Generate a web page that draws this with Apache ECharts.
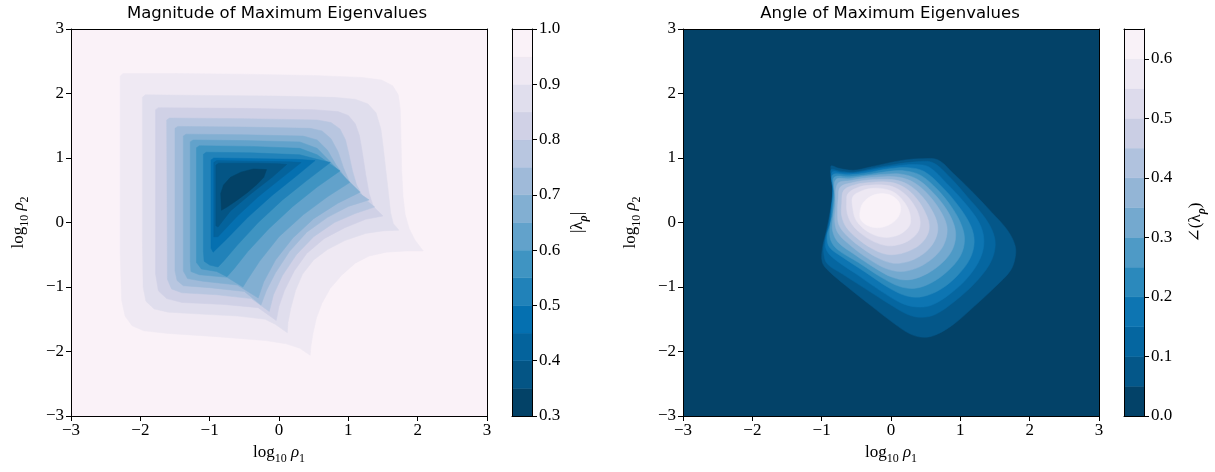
<!DOCTYPE html>
<html><head><meta charset="utf-8">
<script src="https://cdn.jsdelivr.net/npm/echarts@6.0.0/dist/echarts.min.js"></script>
<style>html,body{margin:0;padding:0;background:#fff}#c{width:1215px;height:472px}</style>
</head><body><div id="c"></div><script>
// ---------------- DATA ----------------
const magLevels = [0.3,0.35,0.4,0.45,0.5,0.55,0.6,0.65,0.7,0.75,0.8,0.85,0.9,0.95,1.0];
const angLevels = [0,0.05,0.1,0.15,0.2,0.25,0.3,0.35,0.4,0.45,0.5,0.55,0.6,0.65];

// Magnitude contours (region with |lambda| < level), outer to inner
const mag095 = [[-2.29,2.27],[-2.25,2.31],[-1.5,2.31],[-0.5,2.30],[0.5,2.28],[1.2,2.25],[1.48,2.21],[1.64,2.12],[1.72,1.98],[1.75,1.75],[1.76,1.3],[1.77,0.8],[1.79,0.4],[1.82,0.12],[1.88,-0.1],[1.96,-0.27],[2.08,-0.44],[1.85,-0.44],[1.55,-0.46],[1.3,-0.52],[1.1,-0.63],[0.9,-0.82],[0.74,-1.02],[0.62,-1.25],[0.54,-1.48],[0.49,-1.72],[0.46,-1.92],[0.45,-2.06],[0.3,-1.95],[0.1,-1.88],[-0.2,-1.83],[-0.9,-1.77],[-1.6,-1.72],[-1.95,-1.68],[-2.12,-1.60],[-2.22,-1.45],[-2.27,-1.2],[-2.29,-0.5]];
const mag090 = [[-1.97,1.94],[-1.93,1.98],[-1.0,1.97],[0.0,1.96],[0.8,1.94],[1.1,1.91],[1.28,1.84],[1.40,1.70],[1.47,1.45],[1.50,1.2],[1.54,0.82],[1.58,0.45],[1.61,0.15],[1.65,-0.02],[1.73,-0.12],[1.50,-0.13],[1.25,-0.17],[0.95,-0.28],[0.70,-0.42],[0.50,-0.58],[0.34,-0.80],[0.24,-1.05],[0.17,-1.33],[0.13,-1.55],[0.12,-1.71],[-0.05,-1.58],[-0.2,-1.50],[-0.6,-1.45],[-1.14,-1.42],[-1.6,-1.39],[-1.80,-1.34],[-1.92,-1.22],[-1.96,-1.0],[-1.97,-0.3]];
const mag085 = [[-1.78,1.75],[-1.74,1.78],[-0.5,1.77],[0.5,1.75],[0.85,1.72],[1.0,1.66],[1.10,1.53],[1.16,1.35],[1.20,1.1],[1.25,0.75],[1.30,0.45],[1.36,0.25],[1.50,0.10],[1.25,0.05],[0.95,-0.08],[0.65,-0.25],[0.40,-0.48],[0.22,-0.75],[0.08,-1.05],[0.0,-1.30],[-0.04,-1.52],[-0.3,-1.32],[-0.8,-1.27],[-1.4,-1.24],[-1.62,-1.18],[-1.74,-1.06],[-1.78,-0.8]];
const mag080 = [[-1.62,1.59],[-1.58,1.62],[-0.5,1.61],[0.55,1.59],[0.75,1.55],[0.88,1.45],[0.96,1.28],[1.01,1.05],[1.06,0.8],[1.12,0.58],[1.22,0.38],[1.38,0.24],[1.1,0.14],[0.8,0.0],[0.5,-0.22],[0.25,-0.5],[0.05,-0.82],[-0.08,-1.12],[-0.14,-1.38],[-0.4,-1.18],[-0.9,-1.12],[-1.4,-1.09],[-1.55,-1.03],[-1.61,-0.88]];
const mag075 = [[-1.50,1.46],[-1.46,1.49],[-0.5,1.48],[0.45,1.46],[0.62,1.42],[0.75,1.30],[0.85,1.10],[0.93,0.85],[1.02,0.62],[1.15,0.46],[1.30,0.35],[1.0,0.25],[0.7,0.08],[0.4,-0.15],[0.15,-0.45],[-0.05,-0.78],[-0.18,-1.05],[-0.26,-1.28],[-0.5,-1.07],[-1.0,-1.01],[-1.38,-0.98],[-1.47,-0.90],[-1.50,-0.75]];
const mag070 = [[-1.38,1.34],[-1.34,1.37],[-0.5,1.36],[0.35,1.34],[0.55,1.28],[0.70,1.12],[0.82,0.90],[0.95,0.70],[1.17,0.47],[0.85,0.30],[0.5,0.06],[0.2,-0.24],[-0.05,-0.58],[-0.22,-0.92],[-0.30,-1.17],[-0.6,-0.97],[-1.1,-0.91],[-1.32,-0.87],[-1.38,-0.75]];
const mag065 = [[-1.28,1.25],[-1.24,1.28],[-0.5,1.27],[0.3,1.25],[0.55,1.15],[0.75,0.93],[1.02,0.62],[0.7,0.40],[0.35,0.12],[0.0,-0.22],[-0.28,-0.6],[-0.45,-0.88],[-0.52,-1.0],[-0.75,-0.85],[-1.15,-0.81],[-1.27,-0.76],[-1.28,-0.6]];
const mag060 = [[-1.19,1.16],[-1.15,1.19],[-0.4,1.18],[0.3,1.15],[0.55,1.05],[0.88,0.80],[0.55,0.55],[0.2,0.25],[-0.15,-0.1],[-0.45,-0.45],[-0.65,-0.72],[-0.75,-0.84],[-0.9,-0.76],[-1.12,-0.72],[-1.19,-0.62]];
const mag055 = [[-1.09,1.06],[-1.05,1.09],[-0.4,1.08],[0.3,1.05],[0.55,0.98],[0.74,0.93],[0.4,0.65],[0.05,0.35],[-0.3,0.0],[-0.6,-0.35],[-0.80,-0.6],[-0.88,-0.69],[-1.0,-0.66],[-1.08,-0.6],[-1.09,-0.45]];
const mag050 = [[-0.98,0.97],[-0.94,1.0],[-0.3,0.99],[0.25,0.98],[0.52,0.96],[0.25,0.72],[-0.1,0.42],[-0.45,0.08],[-0.75,-0.25],[-0.95,-0.46],[-0.98,-0.40]];
const mag045 = [[-0.94,0.93],[-0.90,0.96],[-0.3,0.95],[0.15,0.94],[0.32,0.93],[0.05,0.70],[-0.3,0.40],[-0.6,0.10],[-0.88,-0.22],[-0.94,-0.22]];
const mag040 = [[-0.91,0.89],[-0.87,0.92],[-0.3,0.92],[0.0,0.91],[0.11,0.90],[-0.1,0.70],[-0.4,0.45],[-0.7,0.18],[-0.88,-0.07],[-0.91,-0.05]];
const mag035 = [[-0.83,0.19],[-0.84,0.45],[-0.80,0.58],[-0.70,0.70],[-0.55,0.78],[-0.37,0.83],[-0.18,0.82],[-0.22,0.70],[-0.32,0.59],[-0.45,0.47],[-0.60,0.35],[-0.75,0.24]];
const magContourLevels = [0.95,0.9,0.85,0.8,0.75,0.7,0.65,0.6,0.55,0.5,0.45,0.4,0.35];
const magContours = [mag095,mag090,mag085,mag080,mag075,mag070,mag065,mag060,mag055,mag050,mag045,mag040,mag035];

// Angle contours (region with angle > level), outer to inner
const ang005 = [[-0.87,0.84],[-0.86,0.88],[-0.75,0.84],[-0.54,0.81],[-0.30,0.86],[-0.05,0.92],[0.20,0.97],[0.45,0.99],[0.68,0.97],[0.90,0.76],[1.15,0.50],[1.45,0.16],[1.68,-0.12],[1.79,-0.36],[1.79,-0.55],[1.72,-0.75],[1.50,-1.0],[1.20,-1.30],[0.90,-1.58],[0.65,-1.74],[0.47,-1.78],[0.28,-1.73],[0.05,-1.57],[-0.30,-1.28],[-0.65,-0.98],[-0.90,-0.75],[-0.99,-0.62],[-0.99,-0.40],[-0.93,-0.12],[-0.88,0.15],[-0.84,0.45],[-0.86,0.70]];
const ang010 = [[-0.86,0.82],[-0.75,0.80],[-0.54,0.78],[-0.25,0.84],[0.05,0.90],[0.35,0.94],[0.60,0.93],[0.85,0.70],[1.10,0.40],[1.35,0.08],[1.48,-0.18],[1.50,-0.40],[1.42,-0.65],[1.20,-0.95],[0.92,-1.22],[0.65,-1.42],[0.45,-1.47],[0.25,-1.43],[0.0,-1.28],[-0.35,-1.04],[-0.70,-0.80],[-0.92,-0.64],[-0.97,-0.48],[-0.96,-0.30],[-0.91,-0.08],[-0.87,0.18],[-0.84,0.48],[-0.86,0.70]];
const ang015 = [[-0.85,0.78],[-0.7,0.77],[-0.5,0.77],[-0.2,0.83],[0.1,0.88],[0.35,0.90],[0.55,0.86],[0.80,0.61],[1.06,0.31],[1.27,0.0],[1.34,-0.27],[1.29,-0.55],[1.11,-0.85],[0.86,-1.10],[0.59,-1.28],[0.38,-1.31],[0.15,-1.25],[-0.15,-1.06],[-0.50,-0.80],[-0.80,-0.58],[-0.93,-0.43],[-0.94,-0.25],[-0.89,-0.03],[-0.86,0.22],[-0.84,0.50]];
const ang020 = [[-0.84,0.74],[-0.6,0.74],[-0.35,0.77],[-0.05,0.83],[0.25,0.85],[0.48,0.79],[0.73,0.56],[0.97,0.26],[1.15,-0.05],[1.20,-0.30],[1.14,-0.56],[0.96,-0.82],[0.71,-1.04],[0.45,-1.15],[0.23,-1.14],[-0.02,-1.02],[-0.37,-0.77],[-0.71,-0.53],[-0.89,-0.38],[-0.92,-0.20],[-0.87,0.0],[-0.85,0.25],[-0.83,0.52]];
const ang025 = [[-0.82,0.70],[-0.6,0.71],[-0.35,0.74],[-0.05,0.79],[0.20,0.80],[0.43,0.73],[0.67,0.51],[0.88,0.23],[1.02,-0.05],[1.06,-0.28],[1.00,-0.52],[0.82,-0.75],[0.59,-0.93],[0.35,-1.02],[0.12,-0.99],[-0.14,-0.85],[-0.47,-0.62],[-0.77,-0.42],[-0.87,-0.27],[-0.88,-0.08],[-0.84,0.15],[-0.82,0.45]];
const ang030 = [[-0.80,0.66],[-0.6,0.68],[-0.35,0.72],[-0.08,0.75],[0.15,0.75],[0.38,0.67],[0.60,0.47],[0.79,0.22],[0.91,-0.04],[0.93,-0.25],[0.86,-0.47],[0.69,-0.67],[0.47,-0.82],[0.24,-0.89],[0.02,-0.85],[-0.24,-0.70],[-0.52,-0.50],[-0.76,-0.31],[-0.84,-0.14],[-0.84,0.05],[-0.81,0.35]];
const ang035 = [[-0.77,0.60],[-0.58,0.65],[-0.35,0.69],[-0.10,0.71],[0.12,0.70],[0.33,0.62],[0.53,0.44],[0.70,0.20],[0.80,-0.03],[0.80,-0.22],[0.72,-0.42],[0.56,-0.59],[0.36,-0.71],[0.14,-0.76],[-0.08,-0.71],[-0.33,-0.56],[-0.58,-0.36],[-0.76,-0.17],[-0.81,0.0],[-0.80,0.25]];
const ang040 = [[-0.73,0.55],[-0.55,0.62],[-0.33,0.66],[-0.10,0.67],[0.10,0.65],[0.29,0.56],[0.46,0.39],[0.60,0.17],[0.67,-0.03],[0.66,-0.20],[0.57,-0.38],[0.42,-0.52],[0.23,-0.61],[0.03,-0.63],[-0.17,-0.56],[-0.40,-0.41],[-0.62,-0.22],[-0.75,-0.04],[-0.77,0.15],[-0.76,0.38]];
const ang045 = [[-0.68,0.50],[-0.50,0.59],[-0.30,0.62],[-0.10,0.63],[0.08,0.60],[0.25,0.50],[0.39,0.34],[0.50,0.14],[0.55,-0.03],[0.53,-0.18],[0.43,-0.33],[0.28,-0.43],[0.10,-0.49],[-0.08,-0.49],[-0.28,-0.40],[-0.48,-0.25],[-0.64,-0.08],[-0.71,0.10],[-0.71,0.30]];
const ang050 = [[-0.62,0.45],[-0.46,0.55],[-0.28,0.58],[-0.10,0.58],[0.06,0.54],[0.20,0.44],[0.32,0.29],[0.40,0.12],[0.42,-0.03],[0.38,-0.16],[0.27,-0.27],[0.12,-0.34],[-0.05,-0.36],[-0.24,-0.30],[-0.42,-0.18],[-0.56,-0.03],[-0.63,0.14],[-0.64,0.32]];
const ang055 = [[-0.55,0.40],[-0.42,0.49],[-0.26,0.53],[-0.10,0.52],[0.04,0.47],[0.15,0.37],[0.24,0.23],[0.28,0.09],[0.27,-0.04],[0.19,-0.14],[0.06,-0.21],[-0.10,-0.23],[-0.27,-0.18],[-0.41,-0.08],[-0.51,0.05],[-0.55,0.22]];
const ang060 = [[-0.45,0.10],[-0.42,0.27],[-0.33,0.38],[-0.20,0.44],[-0.06,0.44],[0.06,0.38],[0.13,0.28],[0.13,0.15],[0.06,0.03],[-0.06,-0.05],[-0.20,-0.08],[-0.33,-0.05],[-0.42,0.02]];
const angContourLevels = [0.05,0.1,0.15,0.2,0.25,0.3,0.35,0.4,0.45,0.5,0.55,0.6];
const angContours = [ang005,ang010,ang015,ang020,ang025,ang030,ang035,ang040,ang045,ang050,ang055,ang060];

// ---------------- colour map (PuBu reversed) ----------------
const PUBU = ['#fff7fb','#ece7f2','#d0d1e6','#a6bddb','#74a9cf','#3690c0','#0570b0','#045a8d','#023858'];
function pubuR(t){
  const a = PUBU.slice().reverse();
  const s = Math.max(0, Math.min(1, t)) * (a.length - 1);
  const i = Math.min(Math.floor(s), a.length - 2), f = s - i;
  const h = c => [1,3,5].map(k => parseInt(c.substr(k,2),16));
  const c0 = h(a[i]), c1 = h(a[i+1]);
  return 'rgb(' + c0.map((v,k) => Math.round(v + (c1[k]-v)*f)).join(',') + ')';
}
const magN = magLevels.length - 1, angN = angLevels.length - 1;
const magBandColor = i => pubuR((i + 0.5) / magN);
const angBandColor = i => pubuR((i + 0.5) / angN);
const magColors = magContourLevels.map(L => magBandColor(Math.round((L - magLevels[0]) / 0.05) - 1));
const angColors = angContourLevels.map(L => angBandColor(Math.round((L - angLevels[0]) / 0.05)));

// ---------------- helpers ----------------
const serif = "'Liberation Serif','DejaVu Serif',serif";
const sans = "'DejaVu Sans',sans-serif";
const fmt = v => (v < 0 ? '\u2212' + (-v) : String(v));
const rich = {
  n: {fontFamily: serif, fontSize: 17, color: '#000', lineHeight: 24, verticalAlign: 'middle'},
  i: {fontFamily: serif, fontSize: 17, fontStyle: 'italic', color: '#000', lineHeight: 24, verticalAlign: 'middle'},
  s: {fontFamily: serif, fontSize: 12, color: '#000', lineHeight: 12, verticalAlign: 'bottom'},
  sb: {fontFamily: serif, fontSize: 12, fontWeight: 'bold', fontStyle: 'italic', color: '#000', lineHeight: 12, verticalAlign: 'bottom'}
};
const line = {show: true, onZero: false, lineStyle: {color: '#000', width: 1}};
function borderAxis(gridIndex, position, min, max) {
  return {gridIndex, type: 'value', position, min, max, axisLine: line, axisTick: {show: false},
    axisLabel: {show: false}, splitLine: {show: false}, z: 10};
}
function mainAxis(gridIndex, position, name, gap) {
  return {gridIndex, type: 'value', position, min: -3, max: 3, interval: 1, axisLine: line,
    axisTick: {show: true, length: 5, lineStyle: {color: '#000', width: 1}},
    axisLabel: {color: '#000', fontFamily: serif, fontSize: 17, margin: position === 'bottom' ? 6 : 7, formatter: fmt},
    splitLine: {show: false}, z: 10,
    name, nameLocation: 'middle', nameGap: gap, nameRotate: position === 'left' ? 90 : 0,
    nameTextStyle: {rich}};
}
function cbarAxis(gridIndex, min, max, name, gap) {
  return {gridIndex, type: 'value', position: 'right', min, max, interval: 0.1, axisLine: line,
    axisTick: {show: true, length: 5, lineStyle: {color: '#000', width: 1}},
    axisLabel: {color: '#000', fontFamily: serif, fontSize: 17, margin: 7, showMaxLabel: min === 0 ? false : true,
      formatter: v => v.toFixed(1)},
    splitLine: {show: false}, z: 10,
    name, nameLocation: 'middle', nameGap: gap, nameRotate: 90, nameTextStyle: {rich}};
}
function contourSeries(axisIdx, shapes, colors, smooth) {
  return {type: 'custom', xAxisIndex: axisIdx, yAxisIndex: axisIdx, clip: true, silent: true, animation: false,
    data: shapes.map((s, i) => [s[0][0], s[0][1], i]), encode: {x: 0, y: 1},
    renderItem: (params, api) => {
      const pts = shapes[params.dataIndex].map(p => api.coord(p));
      const c = colors[params.dataIndex];
      return {type: 'polygon', shape: {points: pts, smooth}, style: {fill: c, stroke: c, lineWidth: 0.5}};
    }};
}
function colorbarSeries(axisIdx, levels, colorFn) {
  const bands = levels.slice(0, -1).map((lo, i) => [0, lo, levels[i+1], i]);
  return {type: 'custom', xAxisIndex: axisIdx, yAxisIndex: axisIdx, clip: true, silent: true, animation: false,
    data: bands, encode: {x: 0, y: 1},
    renderItem: (params, api) => {
      const b = bands[params.dataIndex];
      const p0 = api.coord([0, b[2]]), p1 = api.coord([1, b[1]]);
      const c = colorFn(b[3]);
      return {type: 'rect', shape: {x: p0[0], y: p0[1], width: p1[0]-p0[0], height: p1[1]-p0[1]},
        style: {fill: c, stroke: c, lineWidth: 0.5}};
    }};
}

const xName = '{n|log}{s|10}{i| \u03c1}{s|1}';
const yName = '{n|log}{s|10}{i| \u03c1}{s|2}';

const chart = echarts.init(document.getElementById('c'), null, {renderer: 'canvas'});
chart.setOption({
  animation: false,
  backgroundColor: '#fff',
  grid: [
    {left: 71, top: 29, width: 416, height: 387, show: true, borderWidth: 0, backgroundColor: magBandColor(magN - 1), outerBoundsMode: 'none'},
    {left: 512, top: 29, width: 20, height: 387, outerBoundsMode: 'none'},
    {left: 683, top: 29, width: 416, height: 387, show: true, borderWidth: 0, backgroundColor: angBandColor(0), outerBoundsMode: 'none'},
    {left: 1124, top: 29, width: 20, height: 387, outerBoundsMode: 'none'}
  ],
  xAxis: [
    mainAxis(0, 'bottom', xName, 12),
    {gridIndex: 1, type: 'value', min: 0, max: 1, position: 'bottom', axisLine: line, axisTick: {show: false}, axisLabel: {show: false}, splitLine: {show: false}, z: 10},
    mainAxis(2, 'bottom', xName, 12),
    {gridIndex: 3, type: 'value', min: 0, max: 1, position: 'bottom', axisLine: line, axisTick: {show: false}, axisLabel: {show: false}, splitLine: {show: false}, z: 10},
    borderAxis(0, 'top', -3, 3), borderAxis(1, 'top', 0, 1), borderAxis(2, 'top', -3, 3), borderAxis(3, 'top', 0, 1)
  ],
  yAxis: [
    mainAxis(0, 'left', yName, 40),
    cbarAxis(1, 0.3, 1.0, '{n||\u03bb}{sb|\u03c1}{n||}', 34),
    mainAxis(2, 'left', yName, 40),
    cbarAxis(3, 0, 0.65, '{n|\u2220(\u03bb}{sb|\u03c1}{n|)}', 40),
    borderAxis(0, 'right', -3, 3), borderAxis(1, 'left', 0.3, 1.0), borderAxis(2, 'right', -3, 3), borderAxis(3, 'left', 0, 0.65)
  ],
  graphic: [
    {type: 'text', x: 277, y: 14, style: {text: 'Magnitude of Maximum Eigenvalues', font: '16.5px ' + sans, fill: '#000', textAlign: 'center', textVerticalAlign: 'middle'}},
    {type: 'text', x: 890, y: 14, style: {text: 'Angle of Maximum Eigenvalues', font: '16.5px ' + sans, fill: '#000', textAlign: 'center', textVerticalAlign: 'middle'}}
  ],
  series: [
    contourSeries(0, magContours, magColors, 0),
    colorbarSeries(1, magLevels, magBandColor),
    contourSeries(2, angContours, angColors, 0.35),
    colorbarSeries(3, angLevels, angBandColor)
  ]
});
</script></body></html>
